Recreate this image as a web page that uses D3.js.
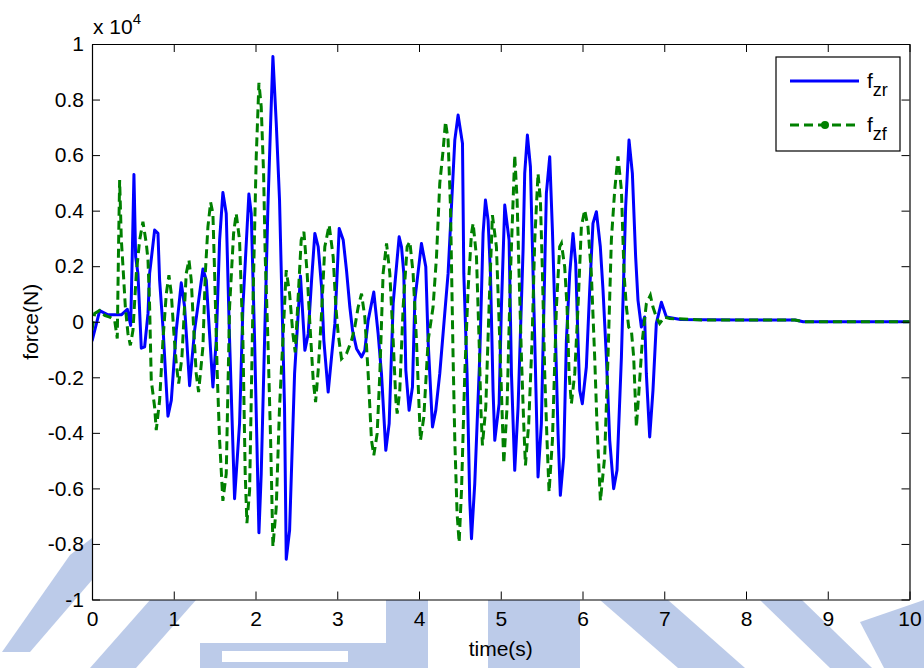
<!DOCTYPE html>
<html>
<head>
<meta charset="utf-8">
<script src="https://cdn.jsdelivr.net/npm/d3@7"></script>
<style>
  body { margin: 0; background: #fff; }
  svg { display: block; font-family: "Liberation Sans", Arial, sans-serif; }
</style>
</head>
<body>
<svg id="chart" width="924" height="668"></svg>
<script>
// time (s) and force (N)
var fzrTime = [0, 0.094, 0.196, 0.359, 0.432, 0.473, 0.493, 0.513, 0.534, 0.562, 0.603, 0.644, 0.685, 0.705, 0.766, 0.807, 0.827, 0.868, 0.929, 0.970,
  1.031, 1.092, 1.133, 1.194, 1.255, 1.357, 1.398, 1.438, 1.479, 1.520, 1.561, 1.601, 1.642, 1.683, 1.744, 1.805, 1.846, 1.919, 1.948, 1.989,
  2.042, 2.070, 2.152, 2.185, 2.213, 2.254, 2.294, 2.355, 2.376, 2.417, 2.478, 2.55, 2.604, 2.645, 2.686, 2.726, 2.767, 2.808, 2.836, 2.889,
  2.930, 2.971, 3.024, 3.073, 3.113, 3.154, 3.187, 3.236, 3.297, 3.337, 3.378, 3.447, 3.500, 3.541, 3.594, 3.635, 3.684, 3.757, 3.786, 3.814,
  3.839, 3.879, 3.920, 3.949, 4.030, 4.083, 4.111, 4.165, 4.205, 4.254, 4.315, 4.356, 4.397, 4.438, 4.478, 4.532, 4.548, 4.588, 4.621, 4.642,
  4.682, 4.743, 4.784, 4.813, 4.845, 4.874, 4.906, 4.927, 4.980, 5.008, 5.049, 5.102, 5.131, 5.171, 5.212, 5.273, 5.293, 5.326, 5.363, 5.375,
  5.416, 5.456, 5.497, 5.558, 5.599, 5.632, 5.660, 5.701, 5.729, 5.770, 5.803, 5.844, 5.884, 5.917, 5.945, 5.966, 5.998, 6.047, 6.088, 6.128,
  6.170, 6.218, 6.251, 6.292, 6.333, 6.381, 6.422, 6.476, 6.528, 6.569, 6.610, 6.650, 6.679, 6.720, 6.760, 6.781, 6.822, 6.862, 6.903, 6.965,
  7.026, 7.2, 7.5, 8.0, 8.6, 8.7, 10];
var fzrForce = [-700, 400, 250, 250, 450, -130, 2460, 5300, 2340, 1740, -950, -900, 300, 1740, 3300, 3180, 1500, -190, -3400, -2830,
  -310, 1400, 530, -2300, -310, 1900, 1500, -430, -2350, -670, 2940, 4650, 3900, -670, -6370, -3670, 530, 4600, 3900, -670,
  -7600, -5470, 4140, 7140, 9550, 7140, 4380, -3070, -8550, -7510, -1870, 1650, -1030, -430, 1500, 3180, 2700, 1260, -670, -2530,
  -1270, -60, 3360, 2940, 1860, 530, -310, -970, -1270, -1030, 50, 1070, -430, -1870, -4630, -3670, 660, 3060, 2700, 1740,
  -1750, -3190, -2350, 770, 2820, 1980, -670, -3790, -3190, -1870, 300, 1740, 4140, 6540, 7440, 6420, 1740, -1870, -6430, -7810,
  -5830, -1270, 3180, 4380, 3660, 1740, -2470, -4270, -2950, 530, 4200, 2940, -1870, -5350, -3070, 2580, 5340, 6720, 5580, 4140,
  -670, -5590, -3670, 4620, 5940, 3300, 530, -4030, -6250, -4870, -670, 1740, 3180, 2100, -670, -2470, -2950, -1630, 1140, 3540,
  3960, 2700, 1140, -1270, -4270, -6010, -5350, -1270, 4140, 6540, 5340, 2340, 770, -190, 170, -1870, -4150, -2470, -60, 700,
  170, 80, 70, 60, 60, 0, 0];

var fzfTime = [0, 0.033, 0.094, 0.155, 0.216, 0.277, 0.309, 0.326, 0.338, 0.359, 0.379, 0.408, 0.440, 0.469, 0.501, 0.542, 0.583, 0.623, 0.664, 0.685,
  0.705, 0.725, 0.766, 0.786, 0.827, 0.868, 0.909, 0.941, 0.970, 1.002, 1.031, 1.060, 1.100, 1.153, 1.186, 1.214, 1.247, 1.275, 1.304, 1.357,
  1.386, 1.418, 1.451, 1.479, 1.500, 1.532, 1.561, 1.601, 1.642, 1.683, 1.732, 1.764, 1.805, 1.846, 1.874, 1.895, 1.928, 1.968, 2.009, 2.042,
  2.070, 2.099, 2.119, 2.152, 2.185, 2.213, 2.254, 2.294, 2.335, 2.376, 2.417, 2.457, 2.486, 2.559, 2.592, 2.632, 2.665, 2.706, 2.735, 2.767,
  2.808, 2.848, 2.901, 2.950, 2.983, 3.011, 3.052, 3.113, 3.175, 3.215, 3.256, 3.297, 3.337, 3.378, 3.419, 3.447, 3.488, 3.521, 3.561, 3.603,
  3.643, 3.684, 3.717, 3.733, 3.765, 3.806, 3.855, 3.888, 3.928, 3.969, 4.001, 4.018, 4.059, 4.112, 4.172, 4.214, 4.254, 4.295, 4.324, 4.356,
  4.385, 4.417, 4.438, 4.466, 4.491, 4.520, 4.560, 4.600, 4.642, 4.662, 4.703, 4.735, 4.756, 4.776, 4.817, 4.857, 4.898, 4.947, 4.988, 5.021,
  5.037, 5.077, 5.119, 5.171, 5.200, 5.224, 5.253, 5.281, 5.302, 5.342, 5.383, 5.416, 5.456, 5.485, 5.510, 5.538, 5.566, 5.591, 5.632, 5.681,
  5.721, 5.742, 5.782, 5.811, 5.836, 5.864, 5.905, 5.945, 5.986, 6.027, 6.067, 6.108, 6.149, 6.177, 6.219, 6.271, 6.312, 6.353, 6.394, 6.434,
  6.476, 6.508, 6.537, 6.565, 6.598, 6.626, 6.659, 6.691, 6.732, 6.781, 6.830, 6.862, 6.903, 6.944, 7.005, 7.066, 7.5, 8.0, 8.6, 8.7, 10];
var fzfForce = [-300, 300, 410, 230, 170, 50, -600, 2940, 5100, 2940, 1980, 530, -430, -850, -310, 1740, 2940, 3600, 2820, 2220,
  530, -2110, -3070, -3900, -2830, -670, 1010, 1680, 1010, -430, -1510, -2230, -1270, 1740, 2220, 1500, -430, -1870, -2530, -900,
  1740, 3420, 4300, 3900, 1740, -1870, -4270, -6450, -5470, 530, 3180, 3900, 2940, -670, -5470, -7250, -6070, 530, 5940, 8600,
  7740, 5340, 2340, -670, -4270, -8100, -6670, -3070, -670, 1860, 1010, -430, -1100, 2940, 3240, 1740, -60, -2110, -2890, -1750,
  300, 2700, 3480, 2340, 530, -430, -1330, -1150, -670, -190, 530, 1010, 170, -1870, -4270, -4810, -4030, -1870, 1740, 2820,
  1740, -670, -2830, -3310, -2470, 530, 2700, 2880, 1740, -670, -3070, -4270, -3430, -670, 530, 2340, 4980, 6180, 7200, 6540,
  4140, -1270, -4270, -6910, -7950, -6070, -1870, 1140, 3180, 3540, 2340, -670, -3070, -4450, -3070, 530, 3840, 2700, -670, -3670,
  -5110, -3070, 1740, 6000, 4380, 1740, -1270, -3670, -5170, -3670, -670, 2940, 5340, 4380, 1740, -1870, -4270, -6130, -4270, 530,
  2700, 2820, 1980, 530, -1870, -2950, -1870, 530, 3420, 4020, 3420, 1740, -1270, -3670, -6450, -4870, -1270, 2940, 4740, 5950,
  4740, 1740, 530, -190, -310, -1270, -3790, -2470, -670, 650, 950, 530, 170, -60, 170, 120, 60, 60, 60, 0, 0];

var xTicks = [0, 1, 2, 3, 4, 5, 6, 7, 8, 9, 10];
var yTicks = [-10000, -8000, -6000, -4000, -2000, 0, 2000, 4000, 6000, 8000, 10000];

var svg = d3.select("#chart");
var pL = 92, pR = 909.5, pT = 44, pB = 599.5;
var fs = 21;

// faint watermark behind the figure
var wm = "#bccbe9";
var wmShapes = [
  [[70, 555], [92, 538], [92, 580], [30, 652], [2, 652]],
  [[150, 600], [196, 600], [136, 668], [90, 668]],
  [[200, 643], [390, 643], [390, 668], [200, 668]],
  [[386, 600], [428, 600], [428, 668], [386, 668]],
  [[488, 600], [580, 600], [580, 668], [488, 668]],
  [[600, 600], [668, 600], [745, 668], [678, 668]],
  [[760, 600], [802, 600], [872, 668], [830, 668]],
  [[860, 622], [924, 600], [924, 668], [884, 668]]
];
svg.append("g").selectAll("polygon").data(wmShapes).enter().append("polygon")
  .attr("points", function(d) { return d.join(" "); })
  .attr("fill", wm);
svg.append("rect").attr("x", 222).attr("y", 651).attr("width", 126).attr("height", 11).attr("fill", "#fff");

var x = d3.scaleLinear().domain([0, 10]).range([pL, pR]);
var y = d3.scaleLinear().domain([-10000, 10000]).range([pB, pT]);

svg.append("rect")
  .attr("x", pL).attr("y", pT)
  .attr("width", pR - pL).attr("height", pB - pT)
  .attr("fill", "#fff");

svg.append("clipPath").attr("id", "plot")
  .append("rect").attr("x", pL).attr("y", pT)
  .attr("width", pR - pL).attr("height", pB - pT);

var line = d3.line()
  .x(function(d) { return x(d[0]); })
  .y(function(d) { return y(d[1]); });

var fzr = d3.zip(fzrTime, fzrForce);
var fzf = d3.zip(fzfTime, fzfForce);

var plot = svg.append("g").attr("clip-path", "url(#plot)");
plot.append("path").datum(fzr)
  .attr("d", line)
  .attr("fill", "none")
  .attr("stroke", "#0000ff")
  .attr("stroke-width", 3)
  .attr("stroke-linejoin", "round");
plot.append("path").datum(fzf)
  .attr("d", line)
  .attr("fill", "none")
  .attr("stroke", "#008000")
  .attr("stroke-width", 3)
  .attr("stroke-dasharray", "9,5");

function yFmt(v) { return String(+(v / 10000).toFixed(1)); }

function styleAxis(g) {
  g.attr("font-size", fs).attr("font-family", "'Liberation Sans', Arial, sans-serif");
  g.selectAll("path.domain").attr("stroke", "#000").attr("stroke-width", 1.2);
  g.selectAll(".tick line").attr("stroke", "#000");
  g.selectAll("text").attr("fill", "#000");
}

svg.append("g").attr("transform", "translate(0," + pB + ")")
  .call(d3.axisBottom(x).tickValues(xTicks).tickSizeInner(-8).tickSizeOuter(0).tickPadding(12))
  .call(styleAxis);
svg.append("g").attr("transform", "translate(0," + pT + ")")
  .call(d3.axisTop(x).tickValues(xTicks).tickSizeInner(-8).tickSizeOuter(0).tickFormat(""))
  .call(styleAxis);
svg.append("g").attr("transform", "translate(" + pL + ",0)")
  .call(d3.axisLeft(y).tickValues(yTicks).tickSizeInner(-8).tickSizeOuter(0).tickPadding(8).tickFormat(yFmt))
  .call(styleAxis);
svg.append("g").attr("transform", "translate(" + pR + ",0)")
  .call(d3.axisRight(y).tickValues(yTicks).tickSizeInner(-8).tickSizeOuter(0).tickFormat(""))
  .call(styleAxis);

// exponent label
var ex = svg.append("text").attr("x", 93).attr("y", 34).attr("font-size", fs);
ex.append("tspan").text("x 10");
ex.append("tspan").attr("dy", -10).attr("font-size", 15).text("4");

svg.append("text")
  .attr("x", (pL + pR) / 2).attr("y", 656)
  .attr("text-anchor", "middle").attr("font-size", fs)
  .text("time(s)");

svg.append("text")
  .attr("transform", "translate(38," + ((pT + pB) / 2) + ") rotate(-90)")
  .attr("text-anchor", "middle").attr("font-size", fs)
  .text("force(N)");

// legend
var lg = svg.append("g");
lg.append("rect").attr("x", 776).attr("y", 57).attr("width", 124).attr("height", 94)
  .attr("fill", "#fff").attr("stroke", "#000").attr("stroke-width", 1.2);
var items = [
  { sub: "zr", color: "#0000ff", dash: null, dot: false, cy: 81 },
  { sub: "zf", color: "#008000", dash: "9,5", dot: true, cy: 125 }
];
items.forEach(function(it) {
  lg.append("line").attr("x1", 790).attr("x2", 859).attr("y1", it.cy).attr("y2", it.cy)
    .attr("stroke", it.color).attr("stroke-width", 3)
    .attr("stroke-dasharray", it.dash);
  if (it.dot) {
    lg.append("circle").attr("cx", 825).attr("cy", it.cy).attr("r", 4).attr("fill", it.color);
  }
  var t = lg.append("text").attr("x", 867).attr("y", it.cy + 7).attr("font-size", fs);
  t.append("tspan").text("f");
  t.append("tspan").attr("dy", 8).attr("font-size", 18).text(it.sub);
});
</script>
</body>
</html>
